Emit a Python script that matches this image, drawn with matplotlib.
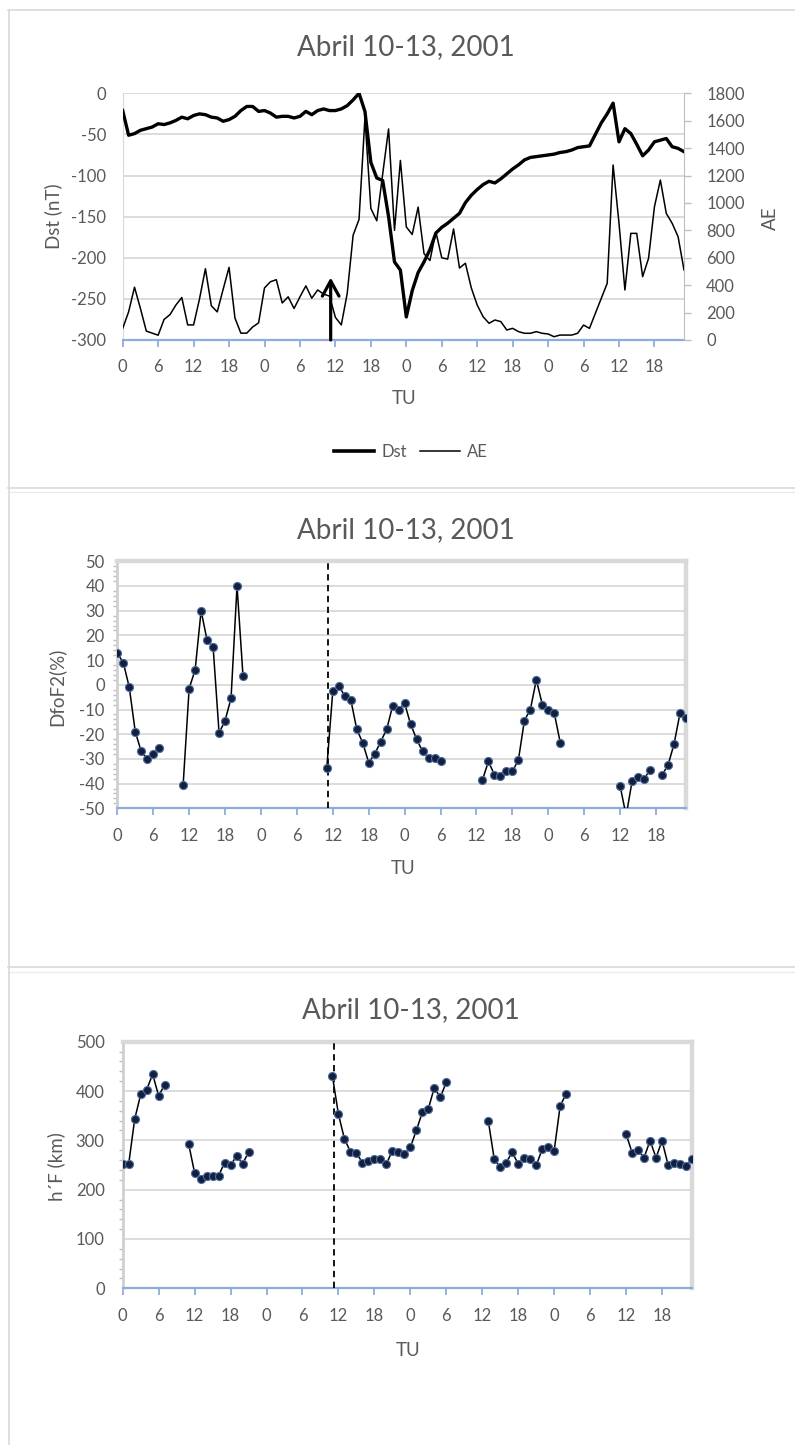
import numpy as np
import matplotlib
matplotlib.use('Agg')
import matplotlib.pyplot as plt
from matplotlib.ticker import FixedLocator, MultipleLocator
from matplotlib.lines import Line2D

plt.rcParams['font.family'] = ['Lato', 'DejaVu Sans']
plt.rcParams['axes.unicode_minus'] = False

N = np.nan
TITLE = "Abril 10-13, 2001"
hours = np.arange(96)
tick_hours = list(range(0, 96, 6))
tick_labels = [str(h % 24) for h in tick_hours]
onset_hour = 35.2

dst = [-21, -51, -49, -45, -43, -41, -37, -38, -36, -33,
       -29, -31, -27, -25, -26, -29, -30, -34, -32, -28,
       -21, -16, -16, -22, -21, -24, -29, -28, -28, -30,
       -28, -22, -26, -21, -19, -21, -21, -19, -15, -8,
       0, -22, -84, -103, -106, -150, -205, -215, -272, -240,
       -218, -205, -190, -170, -163, -158, -152, -146, -133, -124,
       -117, -111, -107, -109, -104, -98, -92, -87, -81, -78,
       -77, -76, -75, -74, -72, -71, -69, -66, -65, -64,
       -50, -36, -25, -12, -59, -43, -49, -62, -76, -69,
       -59, -57, -55, -65, -67, -71]

ae = [85, 205, 385, 230, 65, 50, 35, 150, 185, 255,
      310, 110, 110, 300, 520, 250, 205, 370, 530, 160,
      50, 50, 95, 125, 380, 425, 440, 270, 315, 230,
      315, 395, 305, 365, 335, 320, 165, 110, 340, 765,
      880, 1620, 960, 870, 1210, 1540, 800, 1310, 825, 770,
      970, 630, 580, 790, 600, 590, 810, 525, 560, 380,
      255, 170, 122, 146, 134, 73, 85, 61, 49, 49,
      61, 49, 44, 24, 36, 36, 36, 49, 109, 85,
      195, 304, 413, 1277, 851, 365, 778, 778, 462, 596,
      973, 1167, 924, 851, 754, 511]

dfof2 = [12.8, 9, -1, -19, -27, -30, -28, -25.5, N, N,
         N, -40.5, -1.5, 6, 30, 18, 15.5, -19.5, -14.5, -5.5,
         40, 3.5, N, N, N, N, N, N, N, N,
         N, N, N, N, N, -33.5, -2.5, -0.5, -4.5, -6,
         -18, -23.5, -31.5, -28, -23, -18, -8.5, -10, -7.5, -16,
         -22, -27, -29.5, -29.5, -31, N, N, N, N, N,
         N, -38.5, -31, -36.5, -37, -35, -35, -30.5, -14.5, -10,
         2, -8, -10, -11.5, -23.5, N, N, N, N, N,
         N, N, N, N, -41, -53, -39, -37.5, -38, -34.5,
         N, -36.5, -32.5, -24, -11.5, -13.5]

hF = [252, 252, 343, 393, 403, 434, 390, 413, N, N,
      N, 293, 234, 222, 228, 228, 228, 255, 249, 269,
      252, 276, N, N, N, N, N, N, N, N,
      N, N, N, N, N, 430, 353, 303, 277, 274,
      255, 259, 262, 262, 252, 279, 276, 272, 286, 320,
      357, 364, 407, 387, 418, N, N, N, N, N,
      N, 340, 262, 245, 255, 276, 252, 265, 262, 249,
      282, 287, 279, 370, 394, N, N, N, N, N,
      N, N, N, N, 313, 275, 280, 265, 299, 265,
      299, 251, 255, 252, 248, 262]

W, H = 795, 1445
TXT = '#595959'
GRID = '#d9d9d9'
AXBLUE = '#8faadc'


def px_rect(L, R, T, B):
    return [L / W, 1 - B / H, (R - L) / W, (B - T) / H]


def fx(x):
    return x / W


def fy(y):
    return 1 - y / H


fig = plt.figure(figsize=(W / 100, H / 100), dpi=100)
fig.patch.set_facecolor('white')

# faint panel frames
for y0 in (10, 488, 967):
    fig.add_artist(Line2D([fx(8), 1], [fy(y0), fy(y0)], transform=fig.transFigure,
                          color=GRID, lw=1.2))
for y0 in (492, 972):
    fig.add_artist(Line2D([fx(8), 1], [fy(y0), fy(y0)], transform=fig.transFigure,
                          color='#ececec', lw=1.0))
fig.add_artist(Line2D([fx(8.5), fx(8.5)], [fy(10), 0], transform=fig.transFigure,
                      color=GRID, lw=1.2))


def style_xaxis(ax):
    ax.set_xlim(0, 95)
    ax.xaxis.set_major_locator(FixedLocator(tick_hours))
    ax.set_xticklabels(tick_labels)
    ax.xaxis.set_minor_locator(MultipleLocator(12))
    ax.tick_params(axis='x', which='major', length=5, width=1.3, color=AXBLUE,
                   labelsize=12, labelcolor=TXT, pad=9, direction='out')
    ax.tick_params(axis='x', which='minor', length=0)
    ax.grid(True, axis='x', which='minor', color=GRID, lw=1.3)
    ax.grid(False, axis='x', which='major')
    ax.grid(True, axis='y', which='major', color=GRID, lw=1.3)
    ax.spines['bottom'].set_color(AXBLUE)
    ax.spines['bottom'].set_linewidth(1.6)
    ax.set_axisbelow(True)


# ---------------- Panel 1: Dst / AE ----------------
ax1 = fig.add_axes(px_rect(122.7, 684, 93.3, 340))
style_xaxis(ax1)
ax1.set_ylim(-300, 0)
ax1.yaxis.set_major_locator(MultipleLocator(50))
ax1.tick_params(axis='y', length=0, labelsize=12, labelcolor=TXT, pad=12)
for s in ('top', 'right'):
    ax1.spines[s].set_visible(False)
ax1.spines['left'].set_color(GRID)
ax1.plot(hours, dst, color='black', lw=2.4, solid_joinstyle='round', zorder=5)
ax1.annotate('', xy=(onset_hour, -224), xytext=(onset_hour, -300),
             arrowprops=dict(arrowstyle='->,head_length=0.55,head_width=0.3',
                             lw=2.3, color='black', mutation_scale=20,
                             shrinkA=0, shrinkB=0), zorder=6)

ax1b = ax1.twinx()
ax1b.set_ylim(0, 1800)
ax1b.yaxis.set_major_locator(MultipleLocator(200))
ax1b.tick_params(axis='y', length=5, width=1, color='#bfbfbf', labelsize=12,
                 labelcolor=TXT, pad=11, direction='out')
for s in ('top', 'left', 'bottom'):
    ax1b.spines[s].set_visible(False)
ax1b.spines['right'].set_color('#bfbfbf')
ax1b.plot(hours, ae, color='black', lw=1.1, zorder=4)

fig.text(fx(406), fy(47), TITLE, ha='center', va='center', fontsize=20, color=TXT)
fig.text(fx(53), fy(216), 'Dst (nT)', ha='center', va='center', rotation=90,
         fontsize=13.5, color=TXT)
fig.text(fx(770), fy(218), 'AE', ha='center', va='center', rotation=90,
         fontsize=13.5, color=TXT)
fig.text(fx(404), fy(398), 'TU', ha='center', va='center', fontsize=13.5, color=TXT)
handles = [Line2D([], [], color='black', lw=2.6), Line2D([], [], color='black', lw=1.1)]
fig.legend(handles, ['Dst', 'AE'], loc='center', bbox_to_anchor=(fx(411), fy(452)),
           ncol=2, frameon=False, fontsize=12, handlelength=2.4, handletextpad=0.4,
           columnspacing=0.8, labelcolor=TXT)


def style_ionopanel(ax, ymin, ymax, major, minor, lpad):
    style_xaxis(ax)
    ax.set_ylim(ymin, ymax)
    ax.yaxis.set_major_locator(MultipleLocator(major))
    ax.yaxis.set_minor_locator(MultipleLocator(minor))
    ax.tick_params(axis='y', which='major', length=0, labelsize=12,
                   labelcolor=TXT, pad=lpad)
    ax.tick_params(axis='y', which='minor', length=3, width=1, color='#bfbfbf',
                   direction='out')
    for s in ('top', 'right'):
        ax.spines[s].set_color(GRID)
        ax.spines[s].set_linewidth(3.2)
    ax.spines['left'].set_color('#cfcfcf')
    ax.spines['left'].set_linewidth(2.0)
    ax.axvline(onset_hour, color='black', lw=1.3, ls=(0, (3.5, 2.5)), zorder=3)


mk = dict(marker='o', markersize=5.8, markerfacecolor='#13203d',
          markeredgecolor='#4d6da3', markeredgewidth=0.8)

# ---------------- Panel 2: DfoF2 ----------------
ax2 = fig.add_axes(px_rect(117.3, 686, 561.3, 808.3))
style_ionopanel(ax2, -50, 50, 10, 2, 9)
ax2.plot(hours, dfof2, color='black', lw=1.1, zorder=4, **mk)
fig.text(fx(406), fy(530), TITLE, ha='center', va='center', fontsize=20, color=TXT)
fig.text(fx(56), fy(687), 'DfoF2(%)', ha='center', va='center', rotation=90,
         fontsize=13.5, color=TXT)
fig.text(fx(403), fy(868), 'TU', ha='center', va='center', fontsize=13.5, color=TXT)

# ---------------- Panel 3: h'F ----------------
ax3 = fig.add_axes(px_rect(122.7, 692, 1041.7, 1288.3))
style_ionopanel(ax3, 0, 500, 100, 20, 13)
ax3.plot(hours, hF, color='black', lw=1.1, zorder=4, **mk)
fig.text(fx(411), fy(1010), TITLE, ha='center', va='center', fontsize=20, color=TXT)
fig.text(fx(56), fy(1167), 'h\u00b4F (km)', ha='center', va='center', rotation=90,
         fontsize=13.5, color=TXT)
fig.text(fx(408), fy(1350), 'TU', ha='center', va='center', fontsize=13.5, color=TXT)

fig.savefig('out.png', dpi=100, facecolor='white')
